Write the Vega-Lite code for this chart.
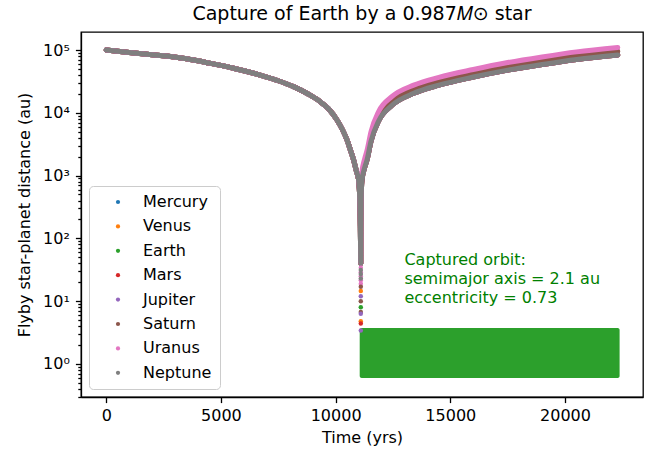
{
  "$schema": "https://vega.github.io/schema/vega-lite/v6.json",
  "width": 562,
  "height": 365,
  "autosize": {"type": "none"},
  "padding": {"left": 81, "top": 32, "right": 16, "bottom": 56},
  "background": "white",
  "config": {
    "font": "DejaVu Sans",
    "view": {"stroke": "#000", "strokeWidth": 1.3},
    "axis": {
      "domainColor": "#000", "domainWidth": 1.3, "tickColor": "#000", "tickWidth": 1.3,
      "labelColor": "#000", "titleColor": "#000", "labelFont": "DejaVu Sans", "titleFont": "DejaVu Sans",
      "labelFontSize": 16, "titleFontSize": 16, "titleFontWeight": "normal", "grid": false
    },
    "legend": {
      "orient": "none", "legendX": 8, "legendY": 154, "title": null, "symbolType": "circle", "symbolSize": 18,
      "labelFontSize": 16, "labelColor": "#000", "labelFont": "DejaVu Sans", "padding": 8, "rowPadding": 8.4,
      "strokeColor": "#cccccc", "fillColor": "rgba(255,255,255,0.8)", "cornerRadius": 4,
      "symbolOffset": 13, "labelOffset": 17, "symbolStrokeWidth": 0
    }
  },
  "title": {"text": "Capture of Earth by a 0.987𝑀⊙ star", "fontSize": 19, "fontWeight": "normal", "color": "#000", "font": "DejaVu Sans", "offset": 8, "anchor": "middle"},
  "datasets": {
    "tracks": [
      {"planet": "Mercury",
       "t": [0,1000,2000,2640,3500,4500,5547,6712,7500,8165,8800,9331,9700,10060,10300,10496,10650,10784,10900,11002,11055,11078,11089,11094,11096,11100,11110,11150,11260,11369,11544,11875,12460,13403,14500,16000,17500,19000,20500,22300],
       "r": [100000,91200,84100,80200,72400,61700,51200,39800,32400,26100,19950,15000,11500,7670,5370,3690,2510,1770,1200,851,398,158,63,40,40,158,398,851,1318,1778,3548,7413,13183,20417,27542,37154,47863,58884,70795,83176]},
      {"planet": "Venus",
       "t": [0,1000,2000,2640,3500,4500,5547,6712,7500,8165,8800,9331,9700,10060,10300,10496,10650,10784,10900,11002,11055,11078,11089,11094,11096,11100,11110,11150,11260,11369,11544,11875,12460,13403,14500,16000,17500,19000,20500,22300],
       "r": [100000,91200,84100,80200,72400,61700,51200,39800,32400,26100,19950,15000,11500,7670,5370,3690,2510,1770,1200,851,398,158,63,40,40,158,398,851,1318,1778,3548,7413,13183,20417,27542,37154,47863,58884,70795,83176]},
      {"planet": "Earth",
       "t": [0,1000,2000,2640,3500,4500,5547,6712,7500,8165,8800,9331,9700,10060,10300,10496,10650,10784,10900,11002,11055,11078,11089,11094],
       "r": [100000,91200,84100,80200,72400,61700,51200,39800,32400,26100,19950,15000,11500,7670,5370,3690,2510,1770,1200,851,398,158,63,40]},
      {"planet": "Mars",
       "t": [0,1000,2000,2640,3500,4500,5547,6712,7500,8165,8800,9331,9700,10060,10300,10496,10650,10784,10900,11002,11055,11078,11089,11094,11096,11100,11110,11150,11260,11369,11544,11875,12460,13403,14500,16000,17500,19000,20500,22300],
       "r": [100000,91200,84100,80200,72400,61700,51200,39800,32400,26100,19950,15000,11500,7670,5370,3690,2510,1770,1200,851,398,158,63,40,40,158,398,851,1318,1778,3548,7413,13183,20417,27542,37154,47863,58884,70795,83176]},
      {"planet": "Jupiter",
       "t": [0,1000,2000,2640,3500,4500,5547,6712,7500,8165,8800,9331,9700,10060,10300,10496,10650,10784,10900,11002,11055,11078,11089,11094,11096,11100,11110,11150,11260,11369,11544,11875,12460,13403,14500,16000,17500,19000,20500,22300],
       "r": [100000,91200,84100,80200,72400,61700,51200,39800,32400,26100,19950,15000,11500,7670,5370,3690,2510,1770,1200,851,398,158,63,40,40,158,398,851,1318,1778,3548,7413,13183,20417,27542,37154,47863,58884,70795,83176]},
      {"planet": "Saturn",
       "t": [0,1000,2000,2640,3500,4500,5547,6712,7500,8165,8800,9331,9700,10060,10300,10496,10650,10784,10900,11002,11055,11078,11089,11094,11096,11100,11110,11150,11260,11369,11544,11875,12460,13403,14500,16000,17500,19000,20500,22300],
       "r": [100000,91200,84100,80200,72400,61700,51200,39800,32400,26100,19950,15000,11500,7670,5370,3690,2510,1770,1200,851,398,158,63,40,40,178,447,955,1514,2089,4169,8710,15488,23714,31623,42658,54954,67608,81283,95499]},
      {"planet": "Uranus",
       "t": [0,1000,2000,2640,3500,4500,5547,6712,7500,8165,8800,9331,9700,10060,10300,10496,10650,10784,10900,11002,11055,11078,11089,11094,11096,11100,11110,11150,11260,11369,11544,11875,12460,13403,14500,16000,17500,19000,20500,22300],
       "r": [100000,91200,84100,80200,72400,61700,51200,39800,32400,26100,19950,15000,11500,7670,5370,3690,2510,1770,1200,851,398,158,63,40,40,200,525,1148,1820,2512,5012,10471,18197,27542,36728,48978,63096,77625,93325,109648]},
      {"planet": "Neptune",
       "t": [0,1000,2000,2640,3500,4500,5547,6712,7500,8165,8800,9331,9700,10060,10300,10496,10650,10784,10900,11002,11055,11078,11089,11094,11096,11100,11110,11150,11260,11369,11544,11875,12460,13403,14500,16000,17500,19000,20500,22300],
       "r": [100000,91200,84100,80200,72400,61700,51200,39800,32400,26100,19950,15000,11500,7670,5370,3690,2510,1770,1200,851,398,158,63,40,40,158,398,851,1318,1778,3548,7413,13183,20417,27542,37154,47863,58884,70795,83176]}
    ],
    "band": [{"planet": "Earth", "t0": 11050, "t1": 22380, "rlo": 0.6, "rhi": 3.75}],
    "dots": [
      {"planet": "Uranus", "t": 11098, "r": 34},
      {"planet": "Uranus", "t": 11098, "r": 29},
      {"planet": "Uranus", "t": 11098, "r": 25},
      {"planet": "Uranus", "t": 11098, "r": 21.5},
      {"planet": "Uranus", "t": 11098, "r": 19},
      {"planet": "Neptune", "t": 11098, "r": 31.5},
      {"planet": "Neptune", "t": 11098, "r": 27},
      {"planet": "Neptune", "t": 11098, "r": 23},
      {"planet": "Saturn", "t": 11098, "r": 17},
      {"planet": "Venus", "t": 11098, "r": 14.5},
      {"planet": "Jupiter", "t": 11098, "r": 12},
      {"planet": "Saturn", "t": 11098, "r": 10},
      {"planet": "Earth", "t": 11098, "r": 8},
      {"planet": "Saturn", "t": 11098, "r": 6.7},
      {"planet": "Jupiter", "t": 11098, "r": 6.3},
      {"planet": "Venus", "t": 11098, "r": 4.8},
      {"planet": "Mars", "t": 11098, "r": 4.4},
      {"planet": "Jupiter", "t": 11098, "r": 3.4}
    ],
    "note": [{"label": "Captured orbit:\nsemimajor axis = 2.1 au\neccentricity = 0.73"}]
  },
  "layer": [
    {
      "data": {"name": "tracks"},
      "transform": [{"flatten": ["t", "r"]}],
      "mark": {"type": "line", "strokeWidth": 5, "strokeCap": "round", "strokeJoin": "round", "clip": true, "interpolate": "monotone"},
      "encoding": {
        "x": {"field": "t", "type": "quantitative", "scale": {"domain": [-1100, 23400], "nice": false, "zero": false},
              "axis": {"title": "Time (yrs)", "values": [0, 5000, 10000, 15000, 20000], "format": "d", "tickSize": 5.6, "labelPadding": 5, "titlePadding": 6}},
        "y": {"field": "r", "type": "quantitative", "scale": {"type": "log", "domain": [0.298, 193500], "nice": false},
              "axis": {"title": "Flyby star-planet distance (au)", "titlePadding": 10, "labelPadding": 6, "labelOverlap": false,
                       "values": [0.3,0.4,0.5,0.6,0.7,0.8,0.9,1,2,3,4,5,6,7,8,9,10,20,30,40,50,60,70,80,90,100,200,300,400,500,600,700,800,900,1000,2000,3000,4000,5000,6000,7000,8000,9000,10000,20000,30000,40000,50000,60000,70000,80000,90000,100000],
                       "labelExpr": "abs(log(datum.value)/LN10 - round(log(datum.value)/LN10)) < 0.01 ? '10' + ['⁰','¹','²','³','⁴','⁵'][round(log(datum.value)/LN10)] : ''",
                       "tickSize": {"condition": {"test": "abs(log(datum.value)/LN10 - round(log(datum.value)/LN10)) < 0.01", "value": 5.6}, "value": 3.2}}},
        "color": {"field": "planet", "type": "nominal",
                  "scale": {"domain": ["Mercury","Venus","Earth","Mars","Jupiter","Saturn","Uranus","Neptune"],
                            "range": ["#1f77b4","#ff7f0e","#2ca02c","#d62728","#9467bd","#8c564b","#e377c2","#7f7f7f"]},
                  "legend": {"symbolType": "circle",
                             "encode": {"symbols": {"update": {"fill": {"scale": "color", "field": "value"}, "strokeWidth": {"value": 0}}}}}}
      }
    },
    {
      "data": {"name": "band"},
      "mark": {"type": "rect", "color": "#2ca02c", "cornerRadius": 2},
      "encoding": {
        "x": {"field": "t0", "type": "quantitative", "scale": {"domain": [-1100, 23400], "nice": false, "zero": false}},
        "x2": {"field": "t1"},
        "y": {"field": "rlo", "type": "quantitative", "scale": {"type": "log", "domain": [0.298, 193500], "nice": false}},
        "y2": {"field": "rhi"}
      }
    },
    {
      "data": {"name": "dots"},
      "mark": {"type": "circle", "size": 20, "opacity": 1},
      "encoding": {
        "x": {"field": "t", "type": "quantitative", "scale": {"domain": [-1100, 23400], "nice": false, "zero": false}},
        "y": {"field": "r", "type": "quantitative", "scale": {"type": "log", "domain": [0.298, 193500], "nice": false}},
        "color": {"field": "planet", "type": "nominal",
                  "scale": {"domain": ["Mercury","Venus","Earth","Mars","Jupiter","Saturn","Uranus","Neptune"],
                            "range": ["#1f77b4","#ff7f0e","#2ca02c","#d62728","#9467bd","#8c564b","#e377c2","#7f7f7f"]},
                  "legend": {"symbolType": "circle",
                             "encode": {"symbols": {"update": {"fill": {"scale": "color", "field": "value"}, "strokeWidth": {"value": 0}}}}}}
      }
    },
    {
      "data": {"name": "note"},
      "mark": {"type": "text", "align": "left", "baseline": "top", "fontSize": 16, "font": "DejaVu Sans", "color": "#008000", "lineHeight": 19, "lineBreak": "\n"},
      "encoding": {
        "x": {"datum": 13000, "type": "quantitative", "scale": {"domain": [-1100, 23400], "nice": false, "zero": false}},
        "y": {"datum": 61, "type": "quantitative", "scale": {"type": "log", "domain": [0.298, 193500], "nice": false}},
        "text": {"field": "label"}
      }
    }
  ]
}
